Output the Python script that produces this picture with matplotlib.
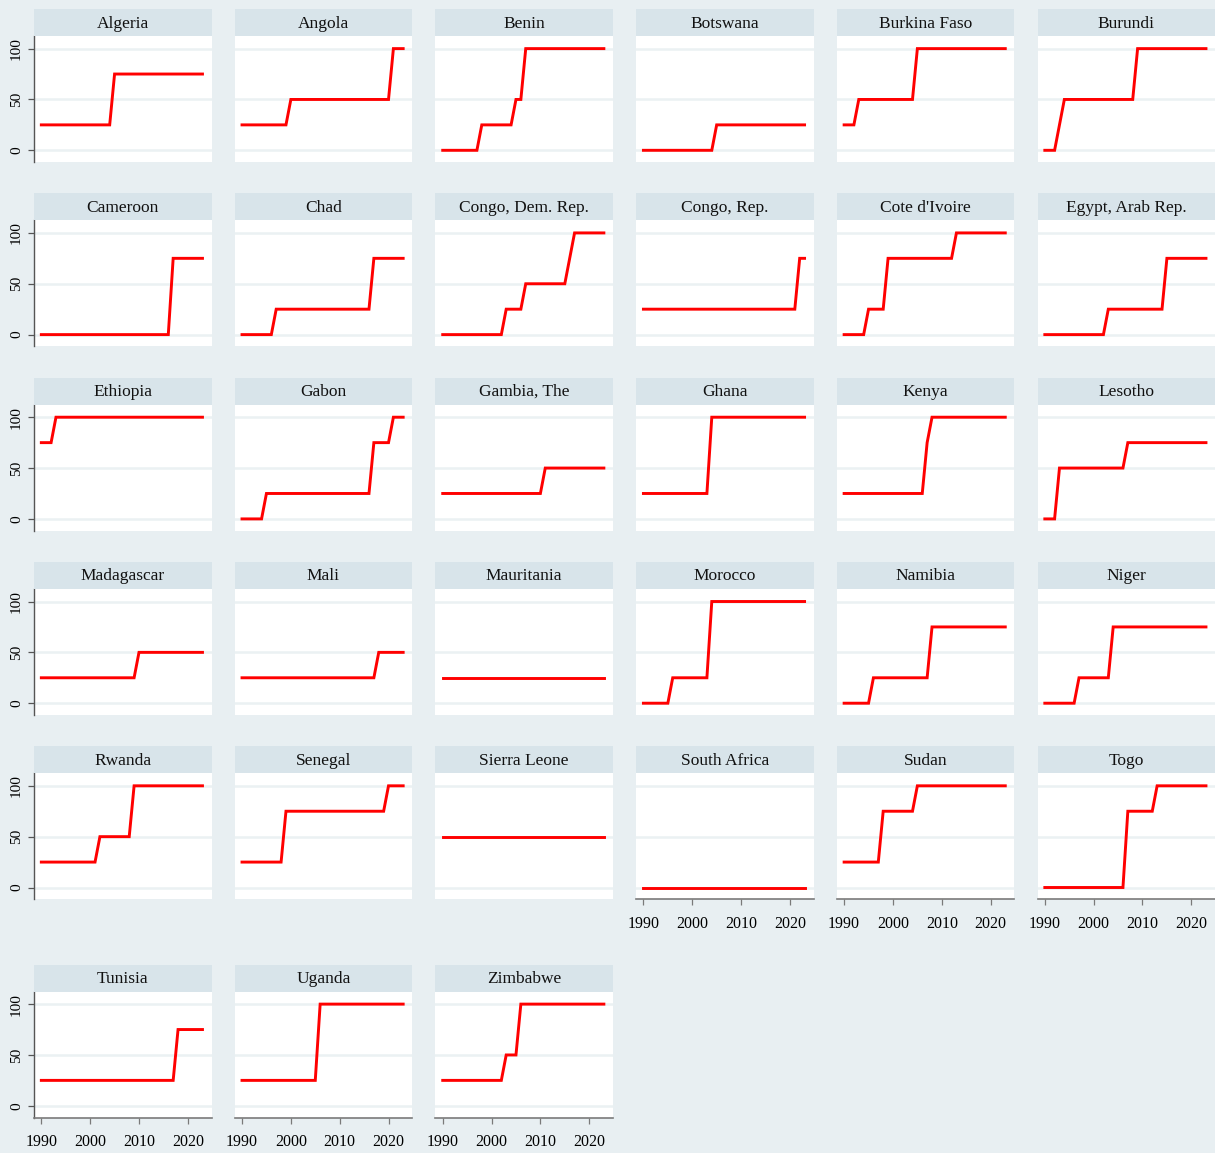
import matplotlib
matplotlib.use("Agg")
import matplotlib.pyplot as plt
from matplotlib.patches import Rectangle

# Score (0-100) by country, stored as the turning points of each yearly line
countries = [
    "Algeria", "Angola", "Benin", "Botswana", "Burkina Faso", "Burundi",
    "Cameroon", "Chad", "Congo, Dem. Rep.", "Congo, Rep.", "Cote d'Ivoire", "Egypt, Arab Rep.",
    "Ethiopia", "Gabon", "Gambia, The", "Ghana", "Kenya", "Lesotho",
    "Madagascar", "Mali", "Mauritania", "Morocco", "Namibia", "Niger",
    "Rwanda", "Senegal", "Sierra Leone", "South Africa", "Sudan", "Togo",
    "Tunisia", "Uganda", "Zimbabwe",
]
knot_years = [
    [1990, 2004, 2005, 2023],
    [1990, 1999, 2000, 2020, 2021, 2023],
    [1990, 1997, 1998, 2004, 2005, 2006, 2007, 2023],
    [1990, 2004, 2005, 2023],
    [1990, 1992, 1993, 2004, 2005, 2023],
    [1990, 1992, 1994, 2008, 2009, 2023],
    [1990, 2016, 2017, 2023],
    [1990, 1996, 1997, 2016, 2017, 2023],
    [1990, 2002, 2003, 2006, 2007, 2015, 2017, 2023],
    [1990, 2021, 2022, 2023],
    [1990, 1994, 1995, 1998, 1999, 2012, 2013, 2023],
    [1990, 2002, 2003, 2014, 2015, 2023],
    [1990, 1992, 1993, 2023],
    [1990, 1994, 1995, 2016, 2017, 2020, 2021, 2023],
    [1990, 2010, 2011, 2023],
    [1990, 2003, 2004, 2023],
    [1990, 2006, 2007, 2008, 2023],
    [1990, 1992, 1993, 2006, 2007, 2023],
    [1990, 2009, 2010, 2023],
    [1990, 2017, 2018, 2023],
    [1990, 2023],
    [1990, 1995, 1996, 2003, 2004, 2023],
    [1990, 1995, 1996, 2007, 2008, 2023],
    [1990, 1996, 1997, 2003, 2004, 2023],
    [1990, 2001, 2002, 2008, 2009, 2023],
    [1990, 1998, 1999, 2019, 2020, 2023],
    [1990, 2023],
    [1990, 2023],
    [1990, 1997, 1998, 2004, 2005, 2023],
    [1990, 2006, 2007, 2012, 2013, 2023],
    [1990, 2017, 2018, 2023],
    [1990, 2005, 2006, 2023],
    [1990, 2002, 2003, 2005, 2006, 2023],
]
knot_values = [
    [25, 25, 75, 75],
    [25, 25, 50, 50, 100, 100],
    [0, 0, 25, 25, 50, 50, 100, 100],
    [0, 0, 25, 25],
    [25, 25, 50, 50, 100, 100],
    [0, 0, 50, 50, 100, 100],
    [0, 0, 75, 75],
    [0, 0, 25, 25, 75, 75],
    [0, 0, 25, 25, 50, 50, 100, 100],
    [25, 25, 75, 75],
    [0, 0, 25, 25, 75, 75, 100, 100],
    [0, 0, 25, 25, 75, 75],
    [75, 75, 100, 100],
    [0, 0, 25, 25, 75, 75, 100, 100],
    [25, 25, 50, 50],
    [25, 25, 100, 100],
    [25, 25, 75, 100, 100],
    [0, 0, 50, 50, 75, 75],
    [25, 25, 50, 50],
    [25, 25, 50, 50],
    [25, 25],
    [0, 0, 25, 25, 100, 100],
    [0, 0, 25, 25, 75, 75],
    [0, 0, 25, 25, 75, 75],
    [25, 25, 50, 50, 100, 100],
    [25, 25, 75, 75, 100, 100],
    [50, 50],
    [0, 0],
    [25, 25, 75, 75, 100, 100],
    [0, 0, 75, 75, 100, 100],
    [25, 25, 75, 75],
    [25, 25, 100, 100],
    [25, 25, 50, 50, 100, 100],
]
x_ticks = [1990, 2000, 2010, 2020]
y_ticks = [0, 50, 100]

BG = "#e8eff2"
BAND = "#d8e4ea"
GRID = "#ebf1f3"
AXIS = "#555555"

W, H = 1215, 1153
fig = plt.figure(figsize=(W / 100, H / 100), dpi=100, facecolor=BG)
plt.rcParams["font.family"] = ["Liberation Serif", "DejaVu Serif"]

ncols = 6
band_h, plot_h, panel_w = 27, 126, 177.5
n = len(countries)
for i, name in enumerate(countries):
    r, c = divmod(i, ncols)
    x0 = 34 + c * 200.7
    top = 9 + r * 184.3 + (34 if r == 5 else 0)

    fig.add_artist(Rectangle((x0 / W, 1 - (top + band_h) / H), panel_w / W, band_h / H,
                             transform=fig.transFigure, facecolor=BAND, edgecolor="none"))
    fig.text((x0 + panel_w / 2) / W, 1 - (top + band_h / 2 + 1) / H, name,
             ha="center", va="center", fontsize=12.5, color="#111111")

    ax = fig.add_axes([x0 / W, 1 - (top + band_h + plot_h) / H, panel_w / W, plot_h / H])
    ax.set_facecolor("white")
    ax.set_xlim(1988.5, 2024.85)
    ax.set_ylim(-11.5, 112.4)
    for yv in y_ticks:
        ax.axhline(yv, color=GRID, lw=1.8, zorder=1)
    ax.plot(knot_years[i], knot_values[i], color="#ff0000", lw=2.1,
            solid_joinstyle="miter", zorder=3)

    for s in ax.spines.values():
        s.set_visible(False)

    show_y = c == 0
    show_x = i + ncols >= n
    if show_y:
        ax.spines["left"].set_visible(True)
        ax.spines["left"].set_color(AXIS)
        ax.spines["left"].set_linewidth(1.0)
        ax.set_yticks(y_ticks)
        ax.set_yticklabels([str(v) for v in y_ticks], rotation=90, va="center")
        ax.tick_params(axis="y", length=4, width=0.9, color=AXIS, pad=4, labelsize=11)
    else:
        ax.set_yticks([])
    if show_x:
        ax.spines["bottom"].set_visible(True)
        ax.spines["bottom"].set_color("#7a7a7a")
        ax.spines["bottom"].set_linewidth(1.2)
        ax.set_xticks(x_ticks)
        ax.tick_params(axis="x", length=4, width=0.9, color="#7a7a7a", pad=8, labelsize=11.5)
    else:
        ax.set_xticks([])

fig.savefig("out.png", dpi=100, facecolor=BG)
